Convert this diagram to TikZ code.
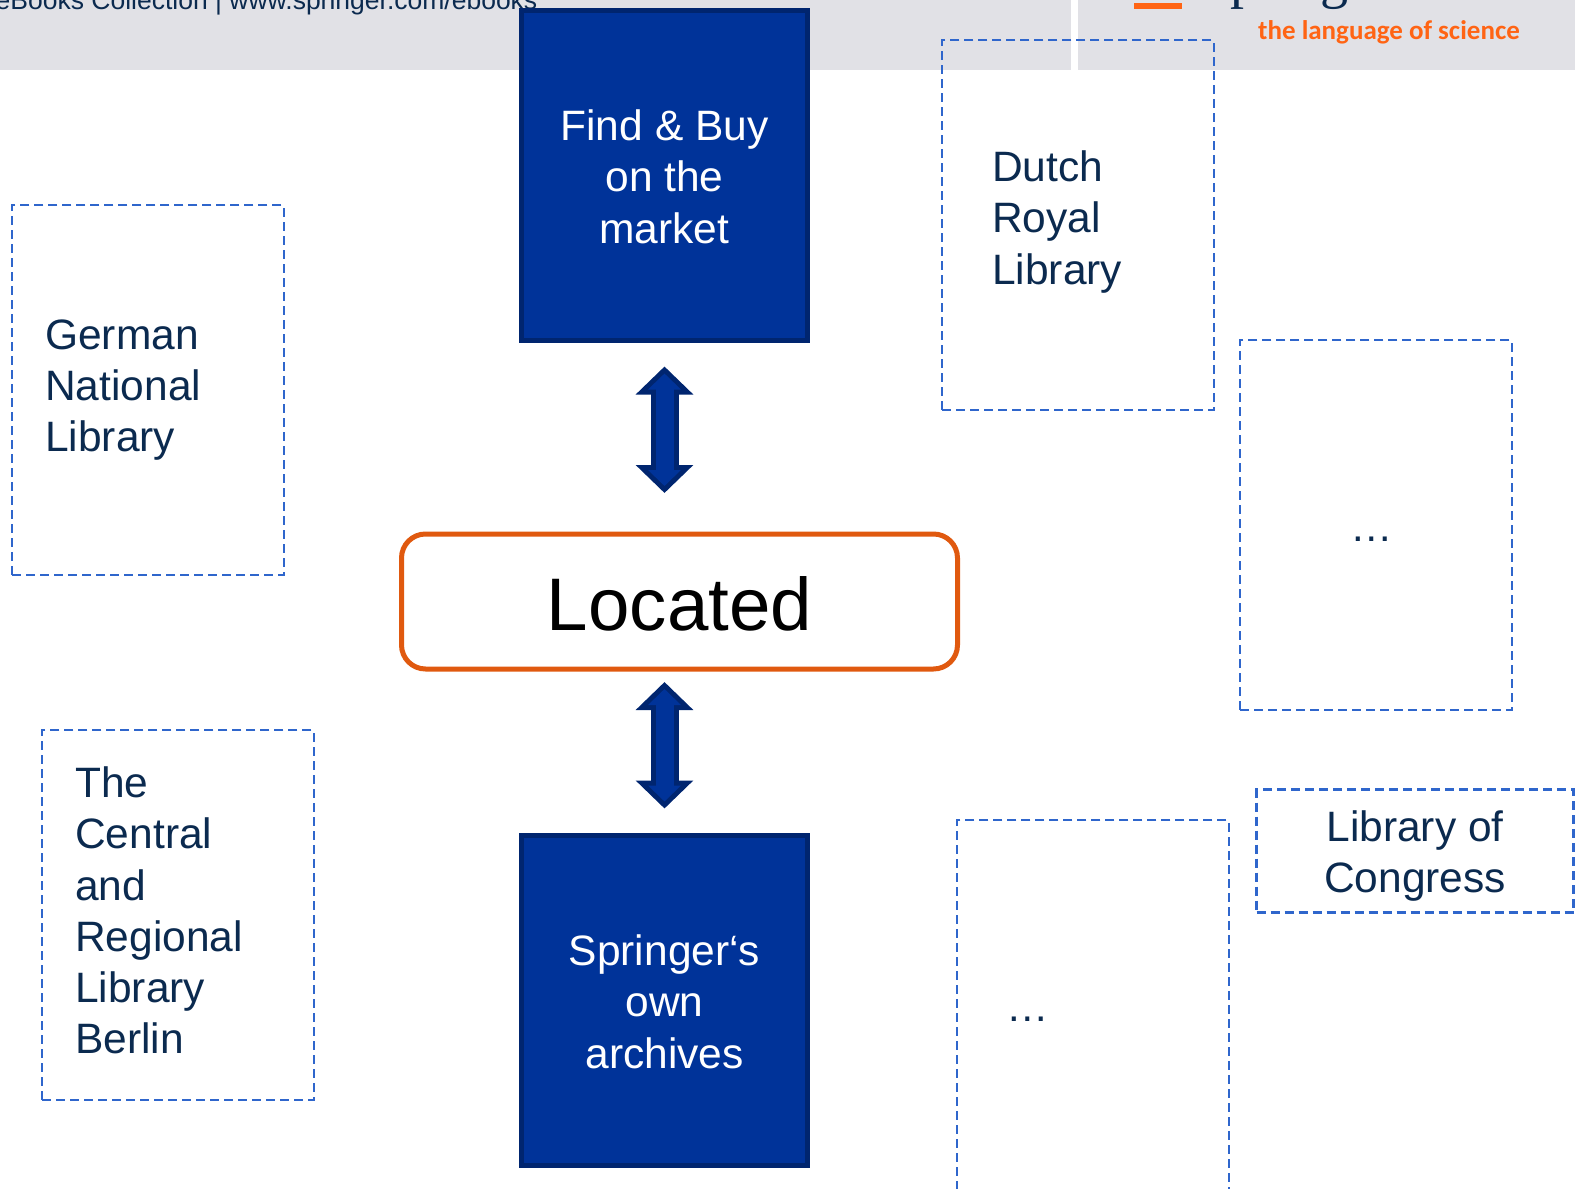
\documentclass[tikz,border=0pt]{standalone}
\usepackage{fontspec}
\setmainfont{Liberation Sans}
\newfontfamily\serifname{Liberation Serif}
\newfontfamily\tagname{Carlito}
\usetikzlibrary{arrows.meta,positioning}
\definecolor{bannergrey}{HTML}{E1E1E6}
\definecolor{boxblue}{HTML}{003399}
\definecolor{boxdark}{HTML}{00256F}
\definecolor{dashblue}{HTML}{2F66CC}
\definecolor{navytext}{HTML}{0B2A4F}
\definecolor{tagorange}{HTML}{FF6414}
\definecolor{lineorange}{HTML}{E0590F}
\tikzset{%
	bodytext/.style  = {font=\fontsize{42.5}{51.3}\selectfont, text=navytext},
	firstline/.style = {execute at begin node={\rule{0pt}{#1}}},
	nudgeup/.style   = {execute at end node={\par\vspace*{#1}}},
	solidbox/.style  = {draw=boxdark, fill=boxblue, line width=5pt, minimum width=286.5pt, minimum height=330pt, text width=260pt, align=flush center, outer sep=0pt, bodytext, text=white, firstline=34pt},
	libbox/.style    = {draw=dashblue, line width=2.2pt, dash pattern=on 9pt off 5pt, minimum height=370pt, inner xsep=#1, text width=271.5pt-2*#1, outer sep=0pt, align=flush left, bodytext},
	centerbox/.style = {draw=dashblue, line width=2.2pt, dash pattern=on 9pt off 5pt, outer sep=0pt, align=flush center, bodytext},
	arrowouter/.style = {line width=28pt, draw=boxdark, {Triangle[length=28pt,width=56pt,fill=boxdark]}-{Triangle[length=28pt,width=56pt,fill=boxdark]}},
	arrowinner/.style = {line width=18pt, draw=boxblue, {Triangle[length=16pt,width=32pt,fill=boxblue]}-{Triangle[length=16pt,width=32pt,fill=boxblue]}},
}
\begin{document}
\begin{tikzpicture}[x=1pt,y=-1pt]
	\useasboundingbox (0,0) rectangle (1575,1189);
	\clip (0,0) rectangle (1575,1189);
	\fill[bannergrey] (0,0) rectangle (1575,69.5);
	\fill[white] (1070.5,0) rectangle (1078,69.5);
	\fill[tagorange] (1134,3) rectangle (1182,9);
	\node [anchor=base east, inner sep=0pt, text=navytext, font=\fontsize{26.5}{30}\selectfont] (header) at (537.5,9) {eBooks Collection | www.springer.com/ebooks};
	\node [anchor=base west, inner sep=0pt, text=navytext, font=\serifname\fontsize{56}{60}\selectfont] (brand) at (1199,-2.5) {Springer};
	\node [anchor=base west, inner sep=0pt, text=tagorange, font=\tagname\bfseries\fontsize{27}{30}\selectfont] (tag) at (1258,39) {the language of science};

	\node [solidbox] (findbuy) at (664.5,175) {Find \& Buy\\on the\\market};
	\node [solidbox] (archives) at (664.5,1000) {Springer‘s\\own\\archives};
	\node [draw=lineorange, line width=5pt, rounded corners=24pt, minimum width=556pt, minimum height=135pt, outer sep=0pt, font=\fontsize{74.5}{80}\selectfont, firstline=59pt] (located) at (679.5,601.5) {Located};

	\node [libbox=33pt] (german) at (148,390) {German\\National\\Library};
	\node [libbox=50pt, nudgeup=6pt] (dutch) at (1078,225) {Dutch\\Royal\\Library};
	\node [libbox=33pt, nudgeup=9pt] (central) at (178,915) {The\\Central\\and\\Regional\\Library\\Berlin};
	\node [libbox=49pt, firstline=32pt] (moreleft) at (1093,1005) {\dots};
	\node [libbox=110pt, firstline=32pt] (moreright) at (1376,525) {\dots};
	\node [centerbox, minimum width=317pt, minimum height=123pt, text width=300pt, firstline=41pt] (congress) at (1415,851) {Library of\\Congress};

	\draw[arrowouter, shorten <=26.5pt, shorten >=41pt] (findbuy.south) -- (findbuy.south |- located.north);
	\draw[arrowinner, shorten <=33.5pt, shorten >=48pt] (findbuy.south) -- (findbuy.south |- located.north);
	\draw[arrowouter, shorten <=13pt, shorten >=26.5pt] (archives.north |- located.south) -- (archives.north);
	\draw[arrowinner, shorten <=20pt, shorten >=33.5pt] (archives.north |- located.south) -- (archives.north);
\end{tikzpicture}
\end{document}
